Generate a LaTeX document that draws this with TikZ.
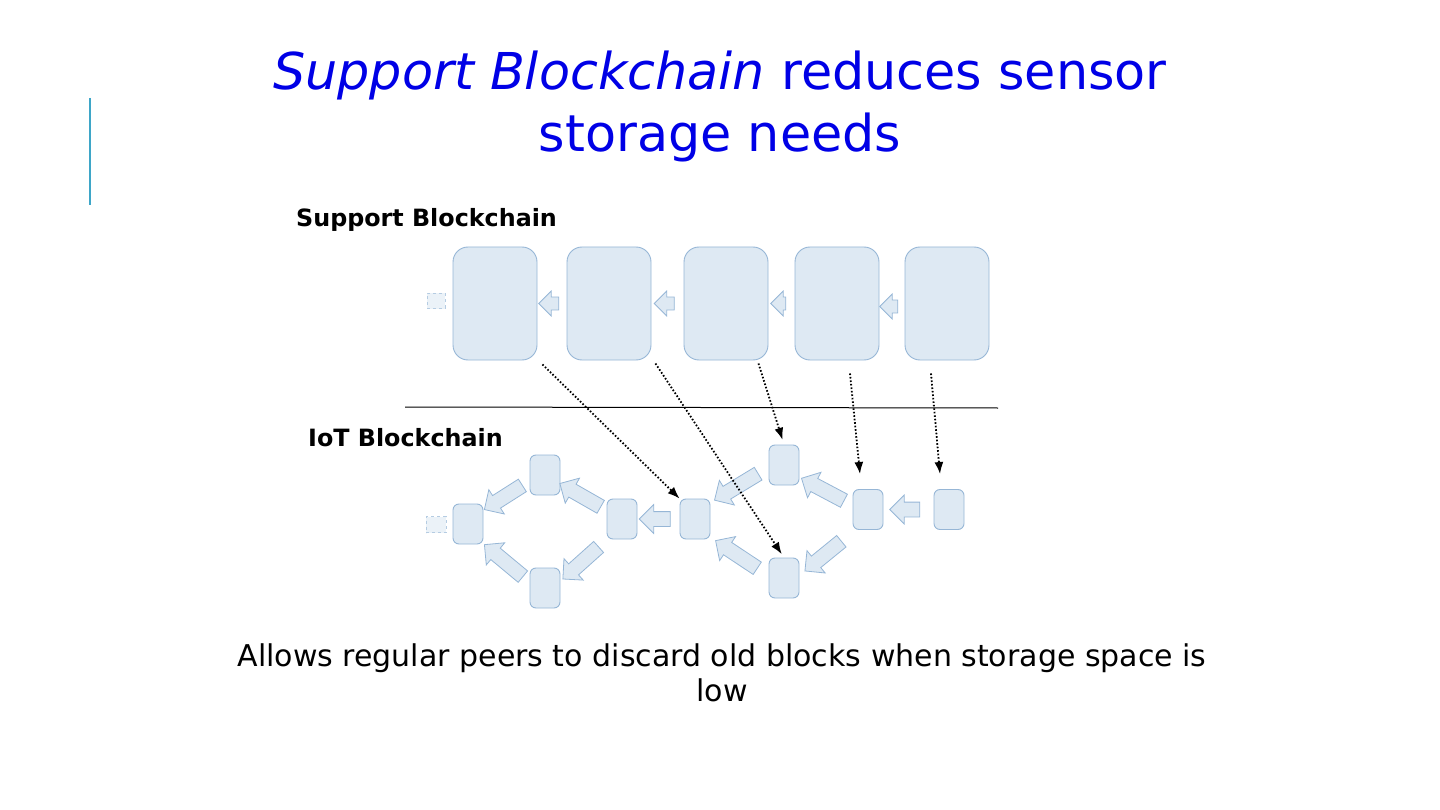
\documentclass[tikz,border=0pt]{standalone}
\usepackage{fontspec}
\setmainfont{DejaVu Sans}
\usepackage{tikz}
\usetikzlibrary{shapes.arrows,arrows.meta}

\definecolor{chainfill}{RGB}{222,233,243}
\definecolor{chainedge}{RGB}{150,182,214}
\definecolor{titleblue}{RGB}{0,0,230}
\definecolor{accentbar}{RGB}{62,166,200}

\tikzset{
  bigblock/.style={draw=chainedge,fill=chainfill,rounded corners=15pt,minimum width=84pt,minimum height=113pt,line width=0.9pt},
  smallblock/.style={draw=chainedge,fill=chainfill,rounded corners=6pt,minimum width=30pt,minimum height=40pt,line width=0.9pt},
  ghostblock/.style={draw=chainedge!70,dashed,fill=chainfill!60,minimum width=18pt,minimum height=15pt,inner sep=0pt,line width=0.6pt},
  linkarrow/.style={single arrow,draw=chainedge,fill=chainfill,inner xsep=0pt,line width=0.8pt,sloped,allow upside down,midway},
  toparrow/.style={linkarrow,inner ysep=6pt,single arrow head extend=6pt,minimum height=20pt},
  lowarrow/.style={linkarrow,inner ysep=7pt,single arrow head extend=7pt,minimum height=48pt},
  keeplink/.style={line width=1.8pt,dash pattern=on 1.6pt off 1.9pt,-{Latex[length=12pt,width=9pt]}},
  chainlabel/.style={anchor=west,font=\fontsize{23.8}{28}\selectfont\bfseries,inner sep=0pt}
}

\begin{document}
\begin{tikzpicture}[x=1pt,y=-1pt]
  \useasboundingbox (0,0) rectangle (1440,810);

  % title and side bar
  \node[text=titleblue,align=center,font=\fontsize{50.8}{62}\selectfont] (title) at (720,106)
    {\textit{Support Blockchain} reduces sensor\\storage needs};
  \draw[accentbar,line width=2pt] (90,98) -- (90,205);

  % support chain
  \node[chainlabel] (suplabel) at (296,220) {Support Blockchain};
  \node[ghostblock] (s0) at (436,301) {};
  \foreach \i/\x in {1/495,2/609,3/726,4/837,5/947}
    \node[bigblock] (s\i) at (\x,303.5) {};
  \path (s2.center) -- (s1.center) node[toparrow] {};
  \path (s3.center) -- (s2.center) node[toparrow] {};
  \path (s4.center) -- (s3.center) node[toparrow,minimum height=15pt] {};
  \path ([yshift=-3pt]s5.center) -- ([yshift=-3pt]s4.center) node[toparrow,minimum height=18pt] {};

  \draw[line width=1pt] (405,407) -- (998,408);

  % iot chain
  \node[chainlabel] (iotlabel) at (308,438) {IoT Blockchain};
  \node[ghostblock,minimum width=20pt,minimum height=16pt] (l0) at (436,524.5) {};
  \node[smallblock] (lA) at (468,524) {};
  \node[smallblock] (lB) at (545,475) {};
  \node[smallblock] (lC) at (545,588) {};
  \node[smallblock] (lD) at (622,519) {};
  \node[smallblock] (lE) at (695,519) {};
  \node[smallblock] (lF) at (784,465) {};
  \node[smallblock] (lG) at (784,578) {};
  \node[smallblock] (lH) at (868,509.5) {};
  \node[smallblock] (lI) at (949,509.5) {};

  \path (lD.center) -- (lB.center) node[lowarrow,minimum height=47pt] {};
  \path ([yshift=4pt]lB.center) -- ([yshift=4pt]lA.center) node[lowarrow,minimum height=45pt] {};
  \path ([yshift=-7pt]lD.center) -- ([yshift=-7pt]lC.center) node[lowarrow] {};
  \path ([yshift=-7pt]lC.center) -- ([yshift=-7pt]lA.center) node[lowarrow,minimum height=50pt] {};
  \path (lE.center) -- (lD.center) node[lowarrow,minimum height=31pt] {};
  \path ([yshift=7pt]lF.center) -- ([yshift=7pt]lE.center) node[lowarrow,minimum height=51pt] {};
  \path ([yshift=-4pt]lH.center) -- ([yshift=-4pt]lF.center) node[lowarrow] {};
  \path ([yshift=-10pt]lH.center) -- ([yshift=-10pt]lG.center) node[lowarrow,minimum height=47pt] {};
  \path ([yshift=-8pt]lG.center) -- ([yshift=-8pt]lE.center) node[lowarrow,minimum height=50pt] {};
  \path (lI.center) -- (lH.center) node[lowarrow,minimum height=30pt] {};

  % blocks kept by the support chain
  \draw[keeplink] ([shift={(5pt,-4pt)}]s1.south east) -- (lE.north west);
  \draw[keeplink,shorten >=4pt] ([shift={(4pt,-3pt)}]s2.south east) -- (lG.north);
  \draw[keeplink,shorten >=5pt] ([shift={(-10pt,-3pt)}]s3.south east) -- (lF.north);
  \draw[keeplink] ([shift={(13pt,-13pt)}]s4.south) -- ([shift={(-8pt,15pt)}]lH.north);
  \draw[keeplink] ([shift={(-16pt,-13pt)}]s5.south) -- ([shift={(-9pt,15pt)}]lI.north);

  \node[align=center,font=\fontsize{30}{35}\selectfont] (note) at (722,673)
    {Allows regular peers to discard old blocks when storage space is\\low};
\end{tikzpicture}
\end{document}
